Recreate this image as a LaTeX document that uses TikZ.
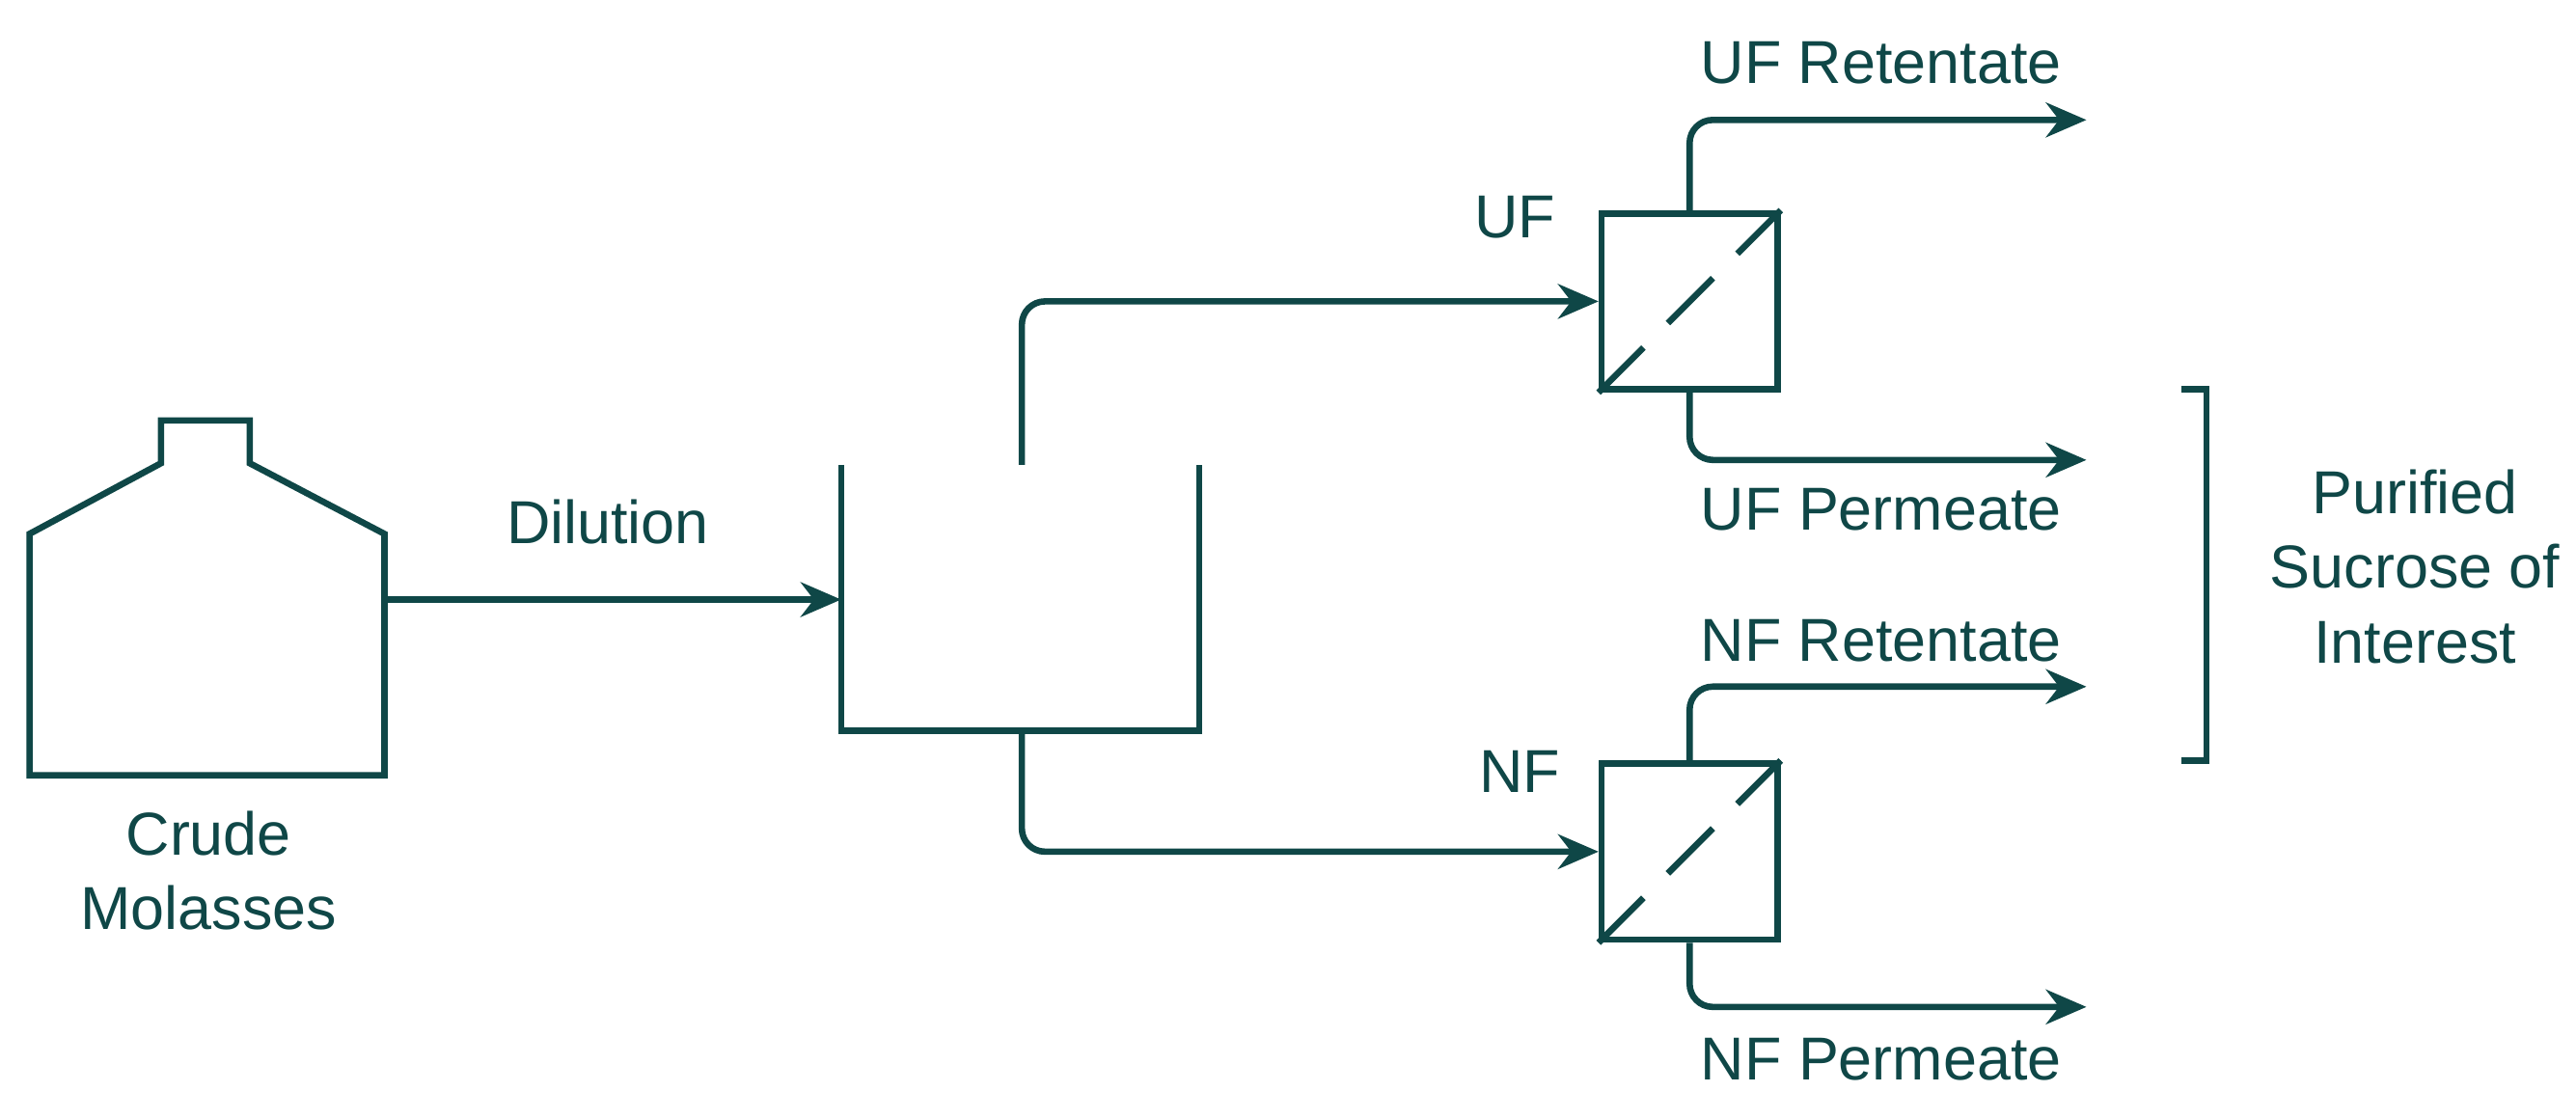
\documentclass[tikz,border=0pt]{standalone}
\usepackage{fontspec}
\setmainfont{Liberation Sans}
\usetikzlibrary{arrows.meta}
\definecolor{teal}{HTML}{0F4747}
\begin{document}
\begin{tikzpicture}[x=0.01cm,y=-0.01cm,
  ln/.style={draw=teal,line width=1.1pt},
  arr/.style={ln,-{Stealth[length=7pt,width=6pt]},rounded corners=4pt},
  lbl/.style={text=teal,font=\fontsize{10.5}{13}\selectfont,align=center}]
\useasboundingbox (0,0) rectangle (1568,681);
% tank
\draw[ln,line join=miter] (18,472) -- (18,325) -- (98,282) -- (98,256) -- (152,256) -- (152,282) -- (234,325) -- (234,472) -- cycle;
\coordinate (tankout) at (234,365);
\node[lbl] (crude) at (127,530) {Crude\\Molasses};
% vessel
\draw[ln] (512,283) -- (512,445) -- (730,445) -- (730,283);
\coordinate (vin) at (512,365);
\coordinate (vtop) at (622,283);
\coordinate (vbot) at (622,445);
\draw[arr] (tankout) -- (vin);
\node[lbl] (dil) at (370,318) {Dilution};
% UF
\node[ln,minimum size=1.07cm,inner sep=0,anchor=north west] (uf) at (973,128) {};
\draw[ln,dash pattern=on 11pt off 6pt] (uf.south west) -- (uf.north east);
\node[lbl] (uflab) at (922,132) {UF};
% NF
\node[ln,minimum size=1.07cm,inner sep=0,anchor=north west] (nf) at (973,463) {};
\draw[ln,dash pattern=on 11pt off 6pt] (nf.south west) -- (nf.north east);
\node[lbl] (nflab) at (925,470) {NF};
% feeds
\draw[arr] (vtop) |- (uf.west);
\draw[arr] (vbot) |- (nf.west);
% outputs
\coordinate (ufr) at (1270,73);
\coordinate (ufp) at (1270,280);
\coordinate (nfr) at (1270,418);
\coordinate (nfp) at (1270,613);
\draw[arr] (uf.north) |- (ufr);
\draw[arr] (uf.south) |- (ufp);
\draw[arr] (nf.north) |- (nfr);
\draw[arr] (nf.south) |- (nfp);
\node[lbl] (t1) at (1145,38) {UF Retentate};
\node[lbl] (t2) at (1145,310) {UF Permeate};
\node[lbl] (t3) at (1145,390) {NF Retentate};
\node[lbl] (t4) at (1145,645) {NF Permeate};
% bracket
\draw[ln] (1328,237) -- (1343,237) -- (1343,463) -- (1328,463);
\node[lbl] (pur) at (1470,345) {Purified\\Sucrose of\\Interest};
\end{tikzpicture}
\end{document}
